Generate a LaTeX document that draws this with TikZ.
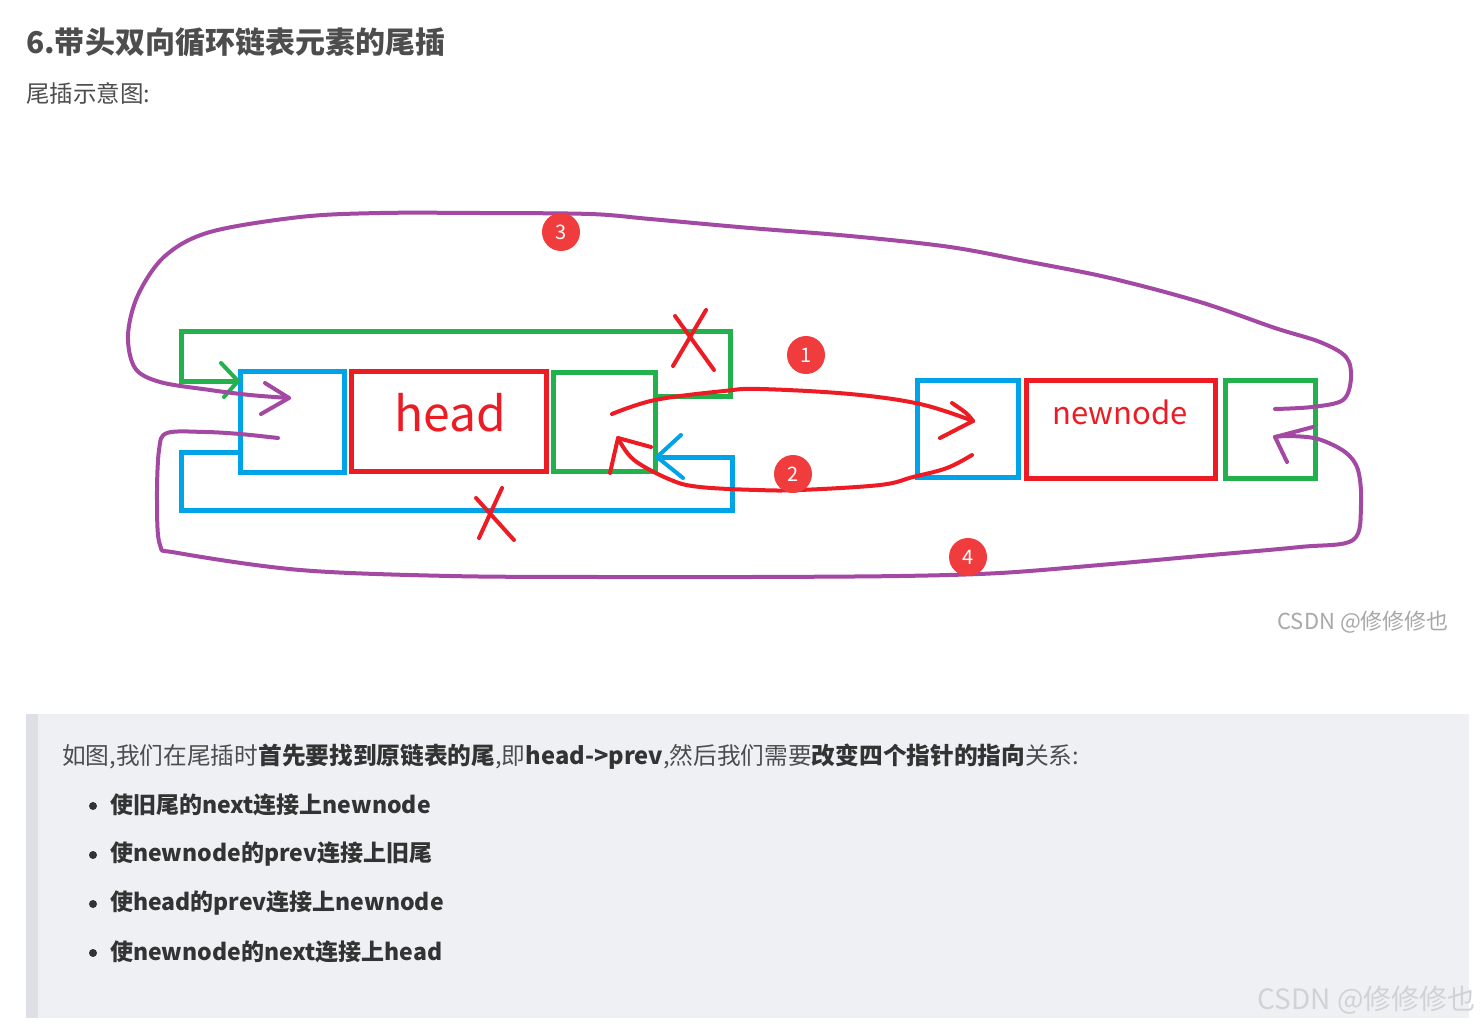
\documentclass[tikz,border=0pt]{standalone}
\usepackage{fontspec}
\setmainfont{Noto Sans CJK SC}
\definecolor{pblue}{HTML}{00A2E8}
\definecolor{pred}{HTML}{ED1C24}
\definecolor{pgreen}{HTML}{22B14C}
\definecolor{ppurple}{HTML}{A349A4}
\definecolor{txt}{HTML}{4D4D4D}
\definecolor{txtb}{HTML}{333333}
\definecolor{boxbg}{HTML}{EEF0F4}
\definecolor{boxbar}{HTML}{DFE0E6}
\definecolor{badgec}{HTML}{F03C3C}
\definecolor{wm}{HTML}{A8A8A8}
\definecolor{wmlight}{HTML}{D2D2D2}
\tikzset{
  cell/.style={draw, line width=5pt, inner sep=0pt, rectangle},
  ink/.style={line width=4pt, line cap=round, line join=round},
  badge/.style={circle, fill=badgec, minimum size=38pt, inner sep=0pt, text=white, font=\fontsize{20}{20}\selectfont},
  body/.style={anchor=west, inner sep=0pt, text=txt, font=\fontsize{23.7}{24}\selectfont},
  bullet/.style={anchor=west, inner sep=0pt, text=txtb, font=\fontsize{23}{23}\selectfont\bfseries},
  dot/.style={circle, fill=txtb, minimum size=8pt, inner sep=0pt}
}
\begin{document}
\begin{tikzpicture}[x=1pt,y=-1pt]
\useasboundingbox (0,0) rectangle (1482,1027);
\fill[white] (0,0) rectangle (1482,1027);

% title
\node[anchor=west, inner sep=0pt, text=txt, font=\fontsize{30}{30}\selectfont\bfseries] (title) at (26,42) {6.带头双向循环链表元素的尾插};
\node[anchor=west, inner sep=0pt, text=txt, font=\fontsize{23.5}{24}\selectfont] (sub) at (26,93) {尾插示意图:};

% head node
\node[cell, draw=pblue, minimum width=104pt, minimum height=101pt] (hprev) at (292,421.5) {};
\node[cell, draw=pred, minimum width=195pt, minimum height=100pt] (hdata) at (448.5,421) {};
\node[cell, draw=pgreen, minimum width=102pt, minimum height=99pt] (hnext) at (604,421.5) {};
\node[text=pred, inner sep=0pt, font=\fontsize{48}{48}\selectfont] (hlabel) at (450,413) {head};

% newnode
\node[cell, draw=pblue, minimum width=101pt, minimum height=97pt] (nprev) at (967.5,428.5) {};
\node[cell, draw=pred, minimum width=189pt, minimum height=98pt] (ndata) at (1120.5,429) {};
\node[cell, draw=pgreen, minimum width=90pt, minimum height=98pt] (nnext) at (1270,429) {};
\node[text=pred, inner sep=0pt, font=\fontsize{31}{31}\selectfont] (nlabel) at (1120,412) {newnode};

% green self loop (head next -> head)
\coordinate (g0) at (655,396);
\coordinate (g1) at (238,381);
\draw[pgreen, line width=5pt, line join=miter] (g0) -- (730,396) -- (730,331) -- (181,331) -- (181,381) -- (g1);
\draw[pgreen, ink] (221,363) -- (g1) -- (224,397);

% blue self loop (head prev -> head)
\coordinate (b0) at (240,452);
\coordinate (b1) at (657,457);
\draw[pblue, line width=5pt, line join=miter] (b0) -- (181,452) -- (181,510) -- (732,510) -- (732,457) -- (b1);
\draw[pblue, ink] (681,435) -- (b1) -- (683,478);

% red crosses
\draw[pred, ink] (706,310) -- (673,366);
\draw[pred, ink] (675,316) -- (714,370);
\draw[pred, ink] (502,488) -- (479,538);
\draw[pred, ink] (476,498) -- (514,540);

% red curve 1: old tail next -> newnode
\coordinate (r1s) at (612,414);
\coordinate (r1e) at (973,421);
\draw[pred, ink] plot[smooth, tension=0.6] coordinates {(r1s) (655,400) (724,391) (760,389) (850,394) (920,404) (r1e)};
\draw[pred, ink] plot[smooth, tension=0.6] coordinates {(952,403) (966,413) (r1e)};
\draw[pred, ink] (r1e) -- (940,438);

% red curve 2: newnode prev -> old tail
\coordinate (r2s) at (972,455);
\coordinate (r2e) at (618,438);
\draw[pred, ink] plot[smooth, tension=0.6] coordinates {(r2s) (947,468) (913,477) (880,485) (800,490) (757,490) (700,487) (671,480) (634,460) (r2e)};
\draw[pred, ink] (610,473) -- (r2e) -- (651,447);

% purple loop 3: newnode -> head prev
\coordinate (p3s) at (1275,409);
\coordinate (p3e) at (289,398);
\draw[ppurple, ink] plot[smooth, tension=0.55] coordinates {(p3s) (1312,407) (1343,400) (1351,378) (1346,357) (1320,342) (1275,328) (1200,302) (1110,278) (1030,262) (950,247) (850,236) (750,228) (650,219) (590,214) (480,213) (380,213) (300,217) (210,232) (165,256) (138,295) (128,335) (135,368) (160,382) (210,390) (250,395) (p3e)};
\draw[ppurple, ink] (265,383) -- (p3e) -- (261,414);

% purple loop 4: head prev -> newnode next
\coordinate (p4s) at (278,438);
\coordinate (p4e) at (1275,437);
\draw[ppurple, ink] plot[smooth, tension=0.55] coordinates {(p4s) (240,434) (205,432) (167,433) (159,450) (157,500) (160,545) (178,553) (300,570) (450,576) (600,577) (750,577) (900,576) (1000,573) (1100,565) (1200,556) (1300,547) (1353,540) (1361,505) (1358,470) (1345,452) (1318,439) (1290,436) (p4e)};
\draw[ppurple, ink] (1313,427) -- (p4e) -- (1287,462);

% badges
\node[badge] (n1) at (806,355) {1};
\node[badge] (n2) at (793,474) {2};
\node[badge] (n3) at (561,232) {3};
\node[badge] (n4) at (968,557) {4};

% watermark
\node[anchor=east, inner sep=0pt, text=wm, font=\fontsize{22}{22}\selectfont] (wm1) at (1449,622) {CSDN @修修修也};

% quote box
\fill[boxbg] (26,714) rectangle (1469,1018);
\fill[boxbar] (26,714) rectangle (38,1018);
\node[body] (intro) at (62,757) {如图,我们在尾插时\textbf{\color{txtb}首先要找到原链表的尾},即\textbf{\color{txtb}head->prev},然后我们需要\textbf{\color{txtb}改变四个指针的指向}关系:};
\node[dot] (d1) at (93,806) {};
\node[bullet] (l1) at (110,805) {使旧尾的next连接上newnode};
\node[dot] (d2) at (93,855) {};
\node[bullet] (l2) at (110,854) {使newnode的prev连接上旧尾};
\node[dot] (d3) at (93,904) {};
\node[bullet] (l3) at (110,903) {使head的prev连接上newnode};
\node[dot] (d4) at (93,953) {};
\node[bullet] (l4) at (110,952) {使newnode的next连接上head};

\node[anchor=east, inner sep=0pt, text=wmlight, font=\fontsize{28}{28}\selectfont] (wm2) at (1476,1000) {CSDN @修修修也};
\end{tikzpicture}
\end{document}
